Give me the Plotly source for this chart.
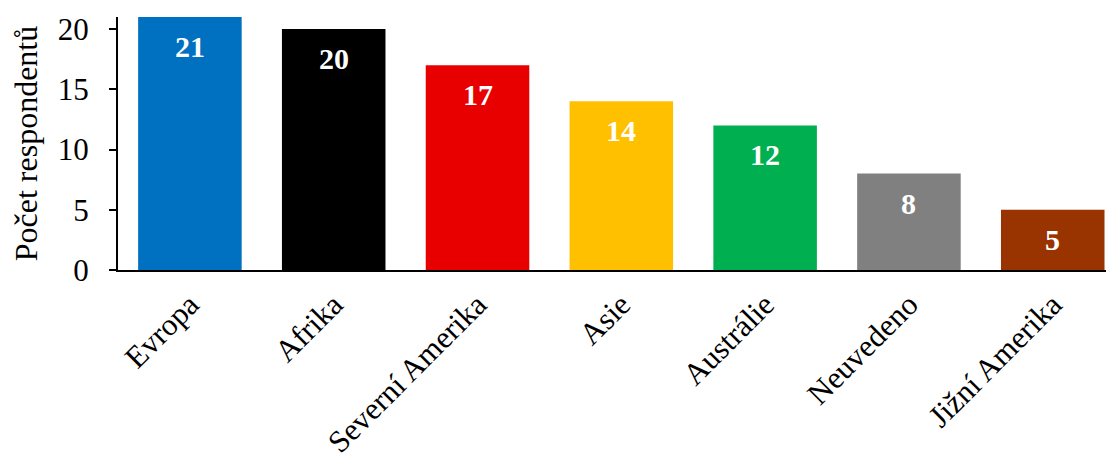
import plotly.graph_objects as go

categories = ["Evropa", "Afrika", "Severní Amerika", "Asie", "Austrálie", "Neuvedeno", "Jižní Amerika"]
values = [21, 20, 17, 14, 12, 8, 5]
colors = ["#0070C0", "#000000", "#E80000", "#FFC000", "#00B050", "#808080", "#993300"]
y_ticks = [0, 5, 10, 15, 20]
y_title = "Počet respondentů"

FONT = "Liberation Serif, Times New Roman, serif"

fig = go.Figure(go.Bar(
    x=categories,
    y=values,
    marker=dict(color=colors, line=dict(width=0)),
    cliponaxis=False,
    hoverinfo="x+y",
))

for c, v in zip(categories, values):
    fig.add_annotation(
        x=c, y=v, text=f"<b>{v}</b>", showarrow=False,
        yanchor="top", yshift=-11,
        font=dict(family=FONT, size=30, color="white"),
    )

fig.update_layout(
    width=1106, height=454,
    margin=dict(l=110, r=0, t=9, b=192),
    plot_bgcolor="white", paper_bgcolor="white",
    bargap=0.28,
    showlegend=False,
    font=dict(family=FONT, size=31, color="black"),
)
fig.update_xaxes(
    range=[-0.5, 6.426],
    tickangle=-45,
    showline=True, linecolor="black", linewidth=2,
    ticks="", showgrid=False, automargin=False,
    ticklabelstandoff=2,
    tickfont=dict(family=FONT, size=31, color="black"),
)
fig.update_yaxes(
    range=[0, 21],
    tickvals=y_ticks,
    showline=True, linecolor="black", linewidth=2,
    ticks="outside", ticklen=7, tickcolor="black", tickwidth=2,
    showgrid=False, zeroline=False, automargin=False,
    ticklabelstandoff=14,
    title=dict(text=y_title, font=dict(family=FONT, size=32, color="black"), standoff=12),
    tickfont=dict(family=FONT, size=31, color="black"),
)

fig.write_html("out.html")
